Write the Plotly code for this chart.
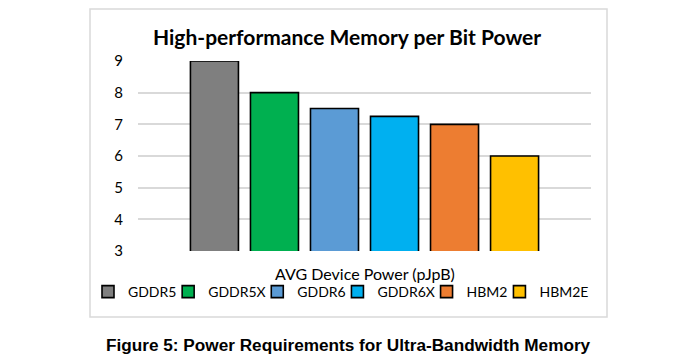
import plotly.graph_objects as go

series = ["GDDR5", "GDDR5X", "GDDR6", "GDDR6X", "HBM2", "HBM2E"]
values = [9, 8, 7.5, 7.25, 7, 6]
colors = ["#7f7f7f", "#00b050", "#5b9bd5", "#00b0f0", "#ed7d31", "#ffc000"]
category = ["AVG Device Power (pJpB)"]
y_ticks = [3, 4, 5, 6, 7, 8, 9]

# the page body adds an 8px margin; work in page pixels and shift
OFF = 8
W, H = 700 - OFF, 363 - OFF
L, R, T, B = 138 - OFF, 591 - OFF, 61 - OFF, 251 - OFF

pw, ph = R - L, B - T
def px(x):
    return (x - OFF - L) / pw
def py(y):
    return (B - (y - OFF)) / ph

# legend layout: one small legend per series so entries sit close like the reference
LEG_FONT = 14
em_widths = {"G": 0.72, "D": 0.74, "R": 0.64, "X": 0.64, "H": 0.76, "B": 0.66,
             "M": 0.90, "E": 0.58, "2": 0.60, "5": 0.60, "6": 0.60}
def text_w(s):
    return sum(em_widths.get(ch, 0.6) for ch in s) * LEG_FONT
tws = [text_w(s) for s in series]
GAP = 6
x_cur = 88

fig = go.Figure()
legend_layouts = {}
for i, (name, v, c) in enumerate(zip(series, values, colors)):
    key = "legend" if i == 0 else f"legend{i + 1}"
    fig.add_trace(go.Bar(
        x=category, y=[v], name=name, legend=key,
        marker=dict(color=c, line=dict(color="#000000", width=1.6)),
    ))
    legend_layouts[key] = dict(
        orientation="h", x=px(x_cur), xanchor="left",
        y=py(292), yanchor="middle",
        font=dict(size=LEG_FONT, family="Lato", color="#000000"), itemwidth=30,
        bgcolor="rgba(0,0,0,0)", borderwidth=0,
    )
    x_cur += 26 + GAP + tws[i]

fig.update_layout(
    width=W, height=H,
    margin=dict(l=L, r=W - R, t=T, b=H - B, pad=0, autoexpand=False),
    paper_bgcolor="white", plot_bgcolor="white",
    barmode="group", bargap=0.205, bargroupgap=0.2,
    font=dict(family="Lato", size=14, color="#000000"),
    showlegend=True,
    xaxis=dict(showticklabels=False, showgrid=False, zeroline=False, showline=False, ticks=""),
    yaxis=dict(range=[3, 9], tickvals=y_ticks, showgrid=True, gridcolor="#d9d9d9", gridwidth=1.5,
               zeroline=False, showline=False, ticks="", ticklabelstandoff=14,
               tickfont=dict(size=15, family="Lato")),
    shapes=[dict(type="rect", xref="paper", yref="paper",
                 x0=px(90), x1=px(607), y0=py(317), y1=py(9),
                 line=dict(color="#d9d9d9", width=1.5), fillcolor="rgba(0,0,0,0)", layer="above")],
    annotations=[
        dict(text="<b>High-performance Memory per Bit Power</b>", xref="paper", yref="paper",
             x=px(347), y=py(36), xanchor="center", yanchor="middle", showarrow=False,
             font=dict(size=21, family="Lato")),
        dict(text=category[0], xref="paper", yref="paper",
             x=px(365), y=py(273), xanchor="center", yanchor="middle", showarrow=False,
             font=dict(size=16, family="Lato")),
        dict(text="<b>Figure 5: Power Requirements for Ultra-Bandwidth Memory</b>", xref="paper", yref="paper",
             x=px(348), y=py(345), xanchor="center", yanchor="middle", showarrow=False,
             font=dict(size=17.2, family="Liberation Sans")),
    ],
    **legend_layouts,
)

fig.write_html("out.html")
